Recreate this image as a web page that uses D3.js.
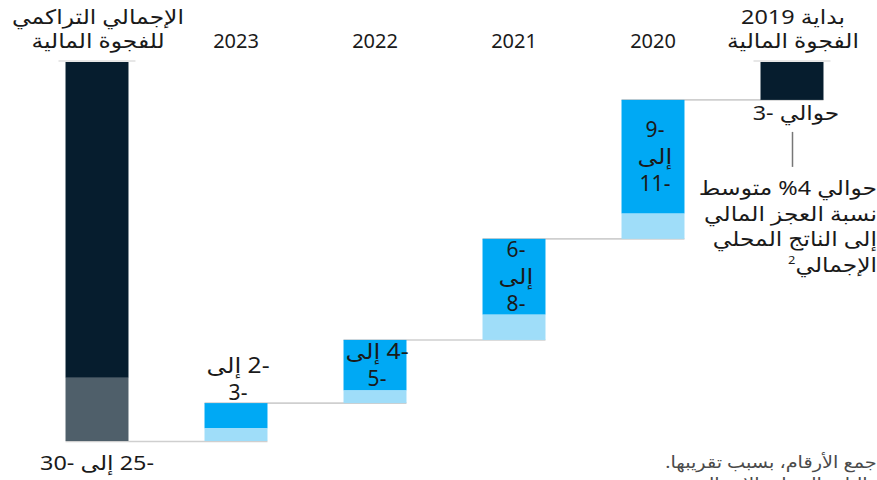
<!DOCTYPE html>
<html lang="ar">
<head>
<meta charset="utf-8">
<script src="https://cdn.jsdelivr.net/npm/d3@7/dist/d3.min.js"></script>
<style>
  html, body { margin: 0; padding: 0; background: #ffffff; }
  svg { display: block; font-family: "Noto Sans", "DejaVu Sans", sans-serif; }
</style>
</head>
<body>
<svg id="chart" width="877" height="480"></svg>
<script>
// Yearly change in the fiscal gap (low and high estimates, in absolute terms)
const years = ["2019", "2020", "2021", "2022", "2023"];
const lowChange = [3, 9, 6, 4, 2];
const highChange = [3, 11, 8, 5, 3];
// Cumulative total range
const totalRange = [25, 30];

// Column order on screen, left to right
const columns = ["total", "2023", "2022", "2021", "2020", "2019"];
const headerLines = {
  total: ["الإجمالي التراكمي", "للفجوة المالية"],
  "2019": ["2019 بداية", "الفجوة المالية"]
};
const yAxisTicks = [0, -30];

const noteLines = ["حوالي 4% متوسط", "نسبة العجز المالي", "إلى الناتج المحلي", "الإجمالي"];
const footLines = [
  "قد لا يتطابق الإجمالي مع جمع الأرقام، بسبب تقريبها.",
  "العجز المالي كنسبة مئوية من الناتج المحلي الإجمالي."
];

const C = {
  navy: "#061d2e",
  slate: "#4f5f6a",
  blue: "#00a9f4",
  lightBlue: "#9fddf9",
  rule: "#cfcfcf",
  leader: "#777777",
  text: "#1a1a1a",
  foot: "#4a4a4a"
};
const RLM = "\u200F", LRM = "\u200E";
const AR_SCALE = 1.17;            // Arabic glyphs are drawn a little wider
const hasArabic = s => /[\u0600-\u06FF]/.test(s);

const svg = d3.select("#chart");

const x = d3.scaleBand()
  .domain(columns)
  .range([27.5, 861.5])
  .paddingInner(0.547)
  .paddingOuter(0.2735);
const bw = x.bandwidth();

const y = d3.scaleLinear().domain(yAxisTicks).range([62, 441]);

// Waterfall segments
const steps = [];
let start = 0;
years.forEach((yr, i) => {
  const top = start;
  const darkEnd = top - lowChange[i];
  const lightEnd = top - highChange[i];
  steps.push({ key: yr, top, darkEnd, lightEnd, low: lowChange[i], high: highChange[i], first: i === 0 });
  start = lightEnd;
});

const gLines = svg.append("g");
const gBars = svg.append("g");
const gText = svg.append("g").attr("fill", C.text).style("font-size", "20px");

// Connectors between consecutive columns
steps.forEach((s, i) => {
  if (i === 0) return;
  const prev = steps[i - 1];
  gLines.append("line")
    .attr("x1", x(s.key)).attr("x2", x(prev.key) + bw)
    .attr("y1", y(s.top)).attr("y2", y(s.top))
    .attr("stroke", C.rule).attr("stroke-width", 1.6);
});
const last = steps[steps.length - 1];
gLines.append("line")
  .attr("x1", x("total")).attr("x2", x(last.key) + bw)
  .attr("y1", y(-totalRange[1]) + 0.5).attr("y2", y(-totalRange[1]) + 0.5)
  .attr("stroke", C.rule).attr("stroke-width", 1.6);

// Zero rules above the two anchor columns
["total", "2019"].forEach(k => {
  gLines.append("line")
    .attr("x1", x(k) - 7).attr("x2", x(k) + bw + 7)
    .attr("y1", y(0) - 1).attr("y2", y(0) - 1)
    .attr("stroke", C.rule).attr("stroke-width", 1.2);
});

// Year bars
steps.forEach(s => {
  if (s.first) {
    gBars.append("rect")
      .attr("x", x(s.key)).attr("width", bw)
      .attr("y", y(s.top)).attr("height", y(s.darkEnd) - y(s.top))
      .attr("fill", C.navy);
    return;
  }
  gBars.append("rect")
    .attr("x", x(s.key)).attr("width", bw)
    .attr("y", y(s.top)).attr("height", y(s.darkEnd) - y(s.top))
    .attr("fill", C.blue);
  gBars.append("rect")
    .attr("x", x(s.key)).attr("width", bw)
    .attr("y", y(s.darkEnd)).attr("height", y(s.lightEnd) - y(s.darkEnd))
    .attr("fill", C.lightBlue);
});

// Cumulative total bar
gBars.append("rect")
  .attr("x", x("total")).attr("width", bw)
  .attr("y", y(0)).attr("height", y(-totalRange[0]) - y(0))
  .attr("fill", C.navy);
gBars.append("rect")
  .attr("x", x("total")).attr("width", bw)
  .attr("y", y(-totalRange[0])).attr("height", y(-totalRange[1]) - y(-totalRange[0]))
  .attr("fill", C.slate);

// Text helper: centred text, right-to-left paragraphs unless asked otherwise
function addText(g, str, cx, baseline, opts = {}) {
  const rtl = opts.dir !== "ltr";
  const k = hasArabic(str) ? AR_SCALE : 1;
  const t = g.append("text")
    .attr("x", 0).attr("y", 0)
    .attr("text-anchor", "middle")
    .attr("direction", rtl ? "rtl" : "ltr")
    .text((rtl ? RLM : LRM) + str);
  if (opts.sup) {
    t.append("tspan").attr("baseline-shift", "super").style("font-size", "11px").text(opts.sup);
  }
  let pos = cx;
  if (opts.right != null || opts.left != null) {
    const w = t.node().getComputedTextLength() * k;
    pos = opts.right != null ? opts.right - w / 2 : opts.left + w / 2;
  }
  t.attr("transform", `translate(${pos},${baseline}) scale(${k},1)`);
  return t;
}

// Column headers
columns.forEach(k => {
  const cx = x(k) + bw / 2;
  const lines = headerLines[k];
  if (lines) {
    lines.forEach((ln, i) => addText(gText, ln, cx + 1, 24 + i * 23.5, { dir: k === "total" ? "rtl" : "ltr" }));
  } else {
    addText(gText, k, cx, 48, { dir: "ltr" });
  }
});

// Range labels on the yearly change bars
const LH = 27;
const gRange = gText.append("g").style("font-size", "21px");
steps.forEach(s => {
  const cx = x(s.key) + bw / 2 + 2;
  if (s.first) {
    addText(gText, "حوالي -" + s.low, cx + 2, y(s.darkEnd) + 20);
    return;
  }
  const darkH = y(s.darkEnd) - y(s.top);
  let lines;
  if (darkH > 60) lines = ["-" + s.low, "إلى", "-" + s.high];
  else lines = ["-" + s.low + " إلى", "-" + s.high];
  let first;
  if (darkH >= 40) {
    const mid = (y(s.top) + y(s.darkEnd)) / 2;
    first = mid - (lines.length - 1) * LH / 2 + 7;
  } else {
    first = y(s.top) - 3 - (lines.length - 1) * LH;
  }
  lines.forEach((ln, i) => addText(gRange, ln, cx, first + i * LH));
});

// Total range label below the total bar
addText(gText, "-" + totalRange[0] + " إلى -" + totalRange[1],
  x("total") + bw / 2, y(-totalRange[1]) + 29);

// Leader line from the starting gap to its note
const lx = x("2019") + bw / 2 + 0.5;
gLines.append("line")
  .attr("x1", lx).attr("x2", lx)
  .attr("y1", y(-3) + 32).attr("y2", y(-3) + 67)
  .attr("stroke", C.leader).attr("stroke-width", 1.5);

// Side note, right aligned
noteLines.forEach((ln, i) => {
  addText(gText, ln, 0, 195 + i * 25.5, {
    right: 877,
    sup: i === noteLines.length - 1 ? "2" : null
  });
});

// Footnotes
const gFoot = svg.append("g").attr("fill", C.foot).style("font-size", "16.5px");
footLines.forEach((ln, i) => {
  addText(gFoot, ln, 0, 468 + i * 22, { left: 665 + i * 22 });
});
</script>
</body>
</html>
